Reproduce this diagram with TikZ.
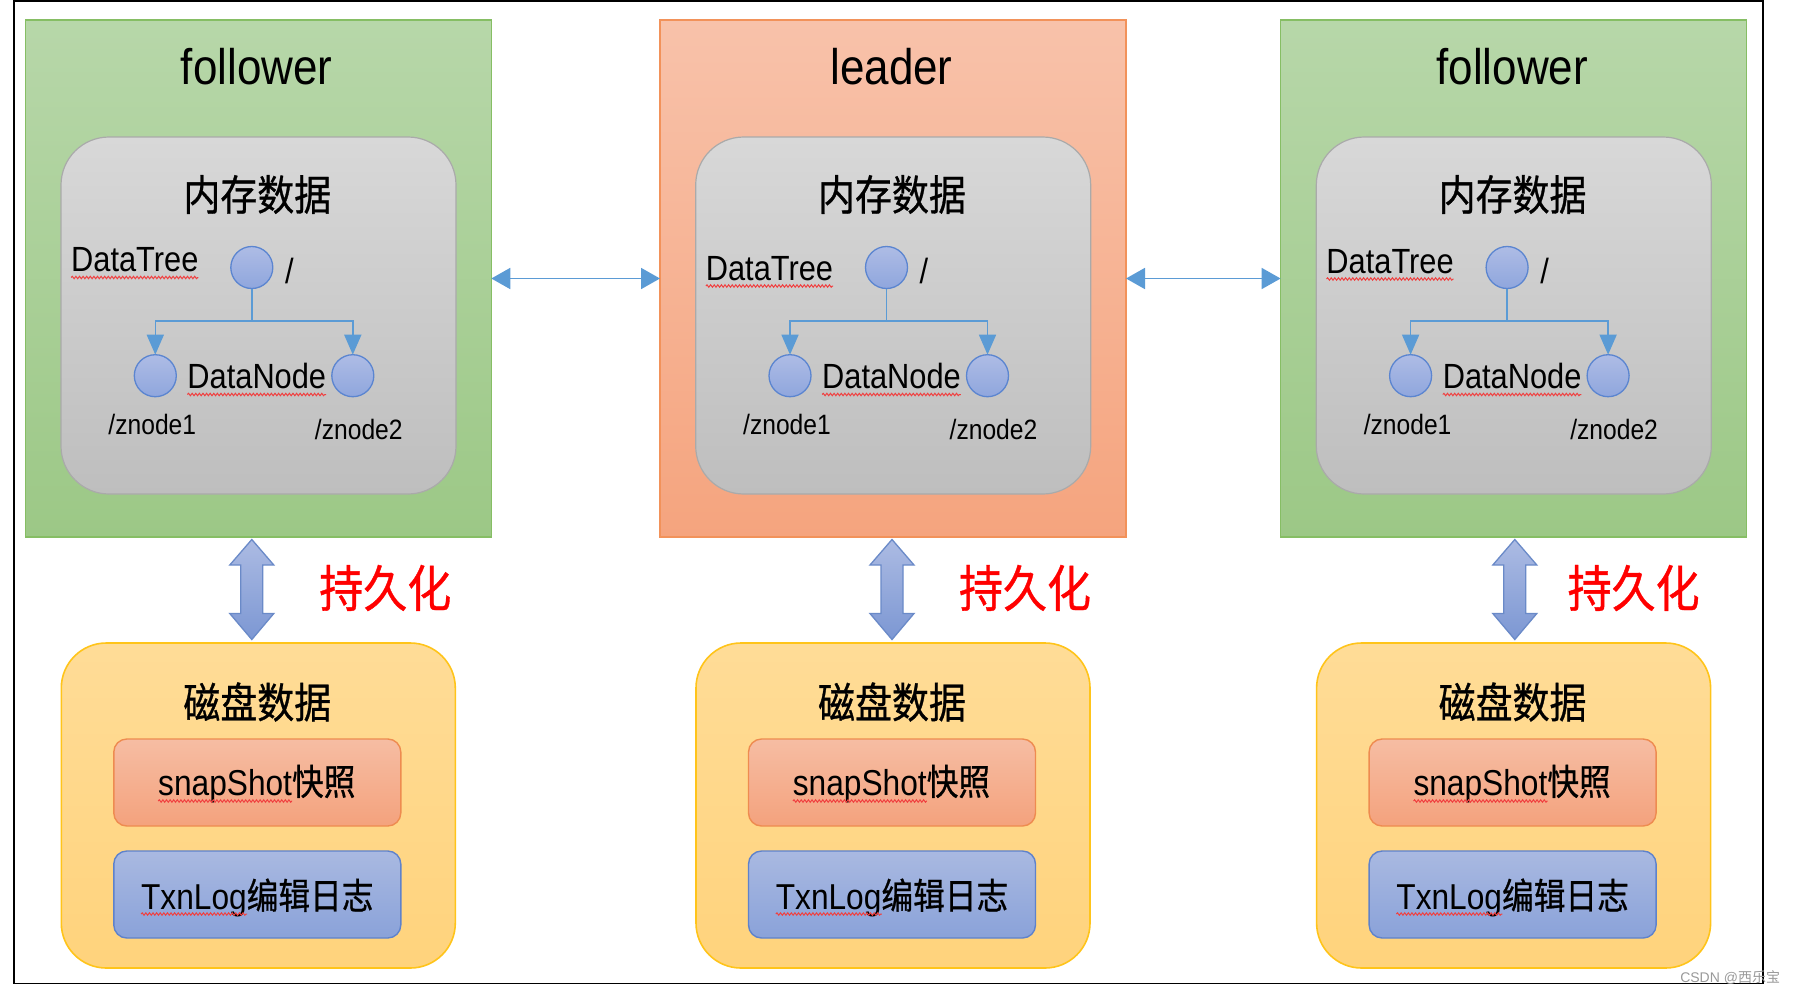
\documentclass[tikz,border=0pt]{standalone}
\usepackage{fontspec}
\usepackage{graphicx}
\setmainfont{Liberation Sans}
\newfontfamily\cjk[FakeBold=0.8]{Noto Sans CJK SC}
\newfontfamily\cjklight{Noto Sans CJK SC}
\usetikzlibrary{arrows.meta,decorations.pathmorphing,calc}
\newcommand{\fsz}[1]{\fontsize{#1}{#1}\selectfont}
\newcommand{\nx}[1]{\scalebox{0.88}[1]{#1}}
\definecolor{grTop}{HTML}{B7D7A9}
\definecolor{grBot}{HTML}{9CC886}
\definecolor{grLine}{HTML}{86BE64}
\definecolor{orTop}{HTML}{F8C2AA}
\definecolor{orBot}{HTML}{F5A47E}
\definecolor{orLine}{HTML}{F2925A}
\definecolor{gyTop}{HTML}{D8D8D8}
\definecolor{gyBot}{HTML}{BEBEBE}
\definecolor{gyLine}{HTML}{AAAAAA}
\definecolor{ciTop}{HTML}{AEBCE5}
\definecolor{ciBot}{HTML}{8FA6DD}
\definecolor{ciLine}{HTML}{5B85D0}
\definecolor{treeBlue}{HTML}{5B9BD5}
\definecolor{daTop}{HTML}{ACBBE3}
\definecolor{daBot}{HTML}{7C97D3}
\definecolor{daLine}{HTML}{6A8AC8}
\definecolor{dkTop}{HTML}{FFDC97}
\definecolor{dkBot}{HTML}{FFD37C}
\definecolor{dkLine}{HTML}{FFC41A}
\definecolor{snTop}{HTML}{F6BDA3}
\definecolor{snBot}{HTML}{F4A27D}
\definecolor{snLine}{HTML}{EE8B50}
\definecolor{txTop}{HTML}{A9B9E1}
\definecolor{txBot}{HTML}{8AA2D9}
\definecolor{txLine}{HTML}{5E82CC}
\definecolor{squigRed}{HTML}{F04040}
\definecolor{wmGray}{HTML}{9A9A9A}
\begin{document}
\begin{tikzpicture}[x=1pt,y=-1pt,
  txt/.style={inner sep=0pt, outer sep=0pt},
  followerbox/.style={draw=grLine, line width=1.5pt, top color=grTop, bottom color=grBot,
     inner sep=0pt, outer sep=0pt, minimum width=466pt, minimum height=517pt},
  leaderbox/.style={draw=orLine, line width=1.5pt, top color=orTop, bottom color=orBot,
     inner sep=0pt, outer sep=0pt, minimum width=466pt, minimum height=517pt},
  membox/.style={draw=gyLine, line width=1.2pt, top color=gyTop, bottom color=gyBot,
     rounded corners=48pt, inner sep=0pt, minimum width=395pt, minimum height=357pt},
  circ/.style={circle, draw=ciLine, line width=1.3pt, top color=ciTop, bottom color=ciBot,
     minimum size=42pt, inner sep=0pt, outer sep=0pt},
  treeline/.style={draw=treeBlue, line width=1.6pt},
  treearrow/.style={treeline, -{Triangle[width=17pt,length=20pt]}},
  harrow/.style={draw=treeBlue, line width=1.8pt,
     {Triangle[width=21pt,length=19pt]}-{Triangle[width=21pt,length=19pt]}},
  dblarrow/.style={draw=daLine, line width=1.3pt, top color=daTop, bottom color=daBot},
  diskbox/.style={draw=dkLine, line width=1.6pt, top color=dkTop, bottom color=dkBot,
     rounded corners=45pt, inner sep=0pt, minimum width=394pt, minimum height=325pt},
  snapbox/.style={draw=snLine, line width=1.4pt, top color=snTop, bottom color=snBot,
     rounded corners=13pt, inner sep=0pt, minimum width=287pt, minimum height=87pt},
  txnbox/.style={draw=txLine, line width=1.4pt, top color=txTop, bottom color=txBot,
     rounded corners=13pt, inner sep=0pt, minimum width=287pt, minimum height=87pt},
  squig/.style={draw=squigRed, line width=1pt, decorate,
     decoration={snake, amplitude=1.2pt, segment length=3.6pt}}
]
\useasboundingbox (0,0) rectangle (1796,994);
\fill[white] (0,0) rectangle (1796,994);
\draw[black, line width=1.6pt] (14,1) rectangle (1763,983.5);

\foreach \nm/\cx/\bst/\ttl/\dty/\ax/\px in
  {L/258.3/followerbox/follower/271.5/-6.5/127,
   M/893/leaderbox/leader/280/-1/132,
   R/1513.6/followerbox/follower/273/1.2/120}{
  % server box
  \node[\bst] (box\nm) at (\cx,278.5) {};
  \node[txt, anchor=base] (ttl\nm) at (\cx-1.5,84) {\nx{\fsz{50}\ttl}};
  % memory data
  \node[membox] (mem\nm) at (\cx+0.2,315.5) {};
  \node[txt] (memt\nm) at (\cx-1,194.5) {\nx{\cjk\fsz{42}内存数据}};
  \node[txt, anchor=base] (dt\nm) at (\cx-123.5,\dty) {\nx{\fsz{35}DataTree}};
  \draw[squig] ($(dt\nm.base west)+(0,6)$) -- ($(dt\nm.base east)+(0,6)$);
  \node[circ] (root\nm) at (\cx-6.5,267.5) {};
  \node[txt, anchor=base] (sl\nm) at (\cx+31,283) {\nx{\fsz{35}/}};
  \node[circ] (ca\nm) at (\cx-103,375.7) {};
  \node[circ] (cb\nm) at (\cx+94.5,375.7) {};
  \coordinate (j\nm) at ($(root\nm.south)+(0,32.5)$);
  \draw[treeline] (root\nm.south) -- (j\nm);
  \draw[treearrow] (j\nm) -| (ca\nm.north);
  \draw[treearrow] (j\nm) -| (cb\nm.north);
  \node[txt, anchor=base] (dn\nm) at (\cx-1.5,388.5) {\nx{\fsz{35}DataNode}};
  \draw[squig] ($(dn\nm.base west)+(0,6)$) -- ($(dn\nm.base east)+(0,6)$);
  \node[txt, anchor=base] (za\nm) at (\cx-106,434) {\nx{\fsz{28}/znode1}};
  \node[txt, anchor=base] (zb\nm) at (\cx+100.5,439) {\nx{\fsz{28}/znode2}};
  % persistence arrow
  \draw[dblarrow, shift={(\cx+\ax,0)}] (0,539.5) -- (22,565) -- (11,565) -- (11,613.5)
     -- (22,613.5) -- (0,639.5) -- (-22,613.5) -- (-11,613.5) -- (-11,565) -- (-22,565) -- cycle;
  \node[txt, text=red] (px\nm) at (\cx+\px,588) {\nx{\cjk\fsz{50}持久化}};
  % disk data
  \node[diskbox] (disk\nm) at (\cx,805.5) {};
  \node[txt] (diskt\nm) at (\cx-1,702) {\nx{\cjk\fsz{42}磁盘数据}};
  \node[snapbox] (snap\nm) at (\cx-1,782.5) {};
  \node[txt, anchor=base] (snapt\nm) at (\cx-1.5,795) {\nx{\fsz{36}snapShot{\cjk 快照}}};
  \draw[squig] ($(snapt\nm.base west)+(0,6)$) -- ++(134,0);
  \node[txnbox] (txn\nm) at (\cx-1,894.5) {};
  \node[txt, anchor=base] (txnt\nm) at (\cx-1,909) {\nx{\fsz{36}TxnLog{\cjk 编辑日志}}};
  \draw[squig] ($(txnt\nm.base west)+(0,5)$) -- ++(106,0);
}
\draw[harrow] (boxL.east) -- (boxM.west);
\draw[harrow] (boxM.east) -- (boxR.west);
\node[txt, anchor=base east, text=wmGray] (wm) at (1780,982) {\fsz{14}CSDN @{\cjklight 西乐宝}};
\end{tikzpicture}
\end{document}
